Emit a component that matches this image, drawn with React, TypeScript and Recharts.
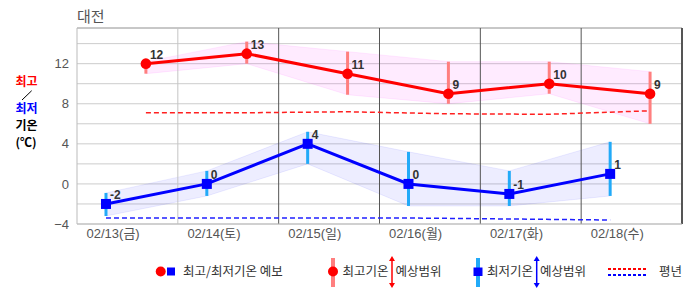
import React from 'react';
import {
  ComposedChart,
  Line,
  Area,
  XAxis,
  YAxis,
  CartesianGrid,
  ReferenceLine,
  ErrorBar,
  LabelList,
} from 'recharts';

const TITLE = '대전';
const DAYS = ['02/13(금)', '02/14(토)', '02/15(일)', '02/16(월)', '02/17(화)', '02/18(수)'];
const HIGH = [12, 13, 11, 9, 10, 9];
const LOW = [-2, 0, 4, 0, -1, 1];
const HIGH_MIN = [11, 12, 8.9, 8, 9, 6];
const HIGH_MAX = [12.2, 14.2, 13.2, 12.2, 12.2, 11.2];
const LOW_MIN = [-3.2, -1.2, 2, -2.2, -2.2, -1.2];
const LOW_MAX = [-0.9, 1.3, 5.2, 3.2, 1.3, 4.2];
const NORMAL_HIGH = [7.1, 7.1, 7.2, 7.0, 6.95, 7.3];
const NORMAL_LOW = [-3.4, -3.4, -3.4, -3.4, -3.5, -3.6];
const HIGH_HOUR = 16.4;
const LOW_HOUR = 6.9;
const LABEL_HOUR = 8.6;
const Y_TICKS = [-4, -2, 0, 2, 4, 6, 8, 10, 12, 14];
const Y_MIN = -4;
const Y_MAX = 15.56;

const highData = DAYS.map((d, i) => ({
  x: i + HIGH_HOUR / 24,
  v: HIGH[i],
  range: [HIGH_MIN[i], HIGH_MAX[i]],
  err: [HIGH[i] - HIGH_MIN[i], HIGH_MAX[i] - HIGH[i]],
  normal: NORMAL_HIGH[i],
}));
const lowData = DAYS.map((d, i) => ({
  x: i + LOW_HOUR / 24,
  v: LOW[i],
  range: [LOW_MIN[i], LOW_MAX[i]],
  err: [LOW[i] - LOW_MIN[i], LOW_MAX[i] - LOW[i]],
  normal: NORMAL_LOW[i],
}));
const dayLines = DAYS.map((d, i) => i + 1);
const xTicks = DAYS.map((d, i) => i + LABEL_HOUR / 24);

const FONT = '"Liberation Sans", Arial, "Noto Sans CJK KR", sans-serif';
const KFONT = '"Noto Sans CJK KR", "Liberation Sans", sans-serif';

const renderValueLabel = (props: any) => {
  const { x, y, value } = props;
  return (
    <text x={x + 4} y={y - 5} fontSize={12} fontWeight="bold" fill="#333" fontFamily={FONT}>
      {value}
    </text>
  );
};

const SquareDot = (props: any) => {
  const { cx, cy, index } = props;
  return <rect key={`sq-${index}`} x={cx - 5} y={cy - 5} width={10} height={10} fill="#0000ff" />;
};

const fmtY = (v: number) => (v % 4 === 0 ? (v < 0 ? '\u2212' + Math.abs(v) : String(v)) : '');

const Arrow = ({ x, color }: { x: number; color: string }) => (
  <g>
    <line x1={x} y1={259} x2={x} y2={285} stroke={color} strokeWidth={1.5} />
    <polygon points={`${x - 3},${261} ${x + 3},${261} ${x},${256}`} fill={color} />
    <polygon points={`${x - 3},${283} ${x + 3},${283} ${x},${288}`} fill={color} />
  </g>
);

export default function App() {
  return (
    <div
      style={{
        position: 'absolute',
        left: 0,
        top: 0,
        width: 686,
        height: 295,
        background: '#fff',
        fontFamily: FONT,
      }}
    >
      <ComposedChart width={686} height={295} margin={{ top: 28, right: 4, bottom: 41, left: 0 }}>
        <CartesianGrid vertical={false} stroke="#cccccc" />
        <XAxis
          type="number"
          dataKey="x"
          domain={[0, DAYS.length]}
          ticks={xTicks}
          interval={0}
          allowDataOverflow
          tickFormatter={(v: number) => DAYS[Math.floor(v)]}
          tickLine={false}
          tickSize={3}
          height={30}
          stroke="#bbbbbb"
          tick={{ fill: '#555', fontSize: 13, fontFamily: FONT }}
        />
        <YAxis
          type="number"
          domain={[Y_MIN, Y_MAX]}
          ticks={Y_TICKS}
          interval={0}
          allowDataOverflow
          tickFormatter={fmtY}
          tickLine={false}
          tickSize={6}
          width={77}
          stroke="#bbbbbb"
          tick={{ fill: '#555', fontSize: 13, fontFamily: FONT }}
        />
        <ReferenceLine y={Y_MAX} stroke="#aaaaaa" />
        {dayLines.map((d, i) => (
          <ReferenceLine
            key={`day-${d}`}
            x={d}
            stroke={i === 0 ? '#c4c4c4' : '#555555'}
            strokeWidth={i === dayLines.length - 1 ? 2 : 1}
          />
        ))}
        <Area
          data={highData}
          dataKey="range"
          type="linear"
          fill="#ff00ff"
          fillOpacity={0.08}
          stroke="#ff00ff"
          strokeOpacity={0.08}
          isAnimationActive={false}
        />
        <Area
          data={lowData}
          dataKey="range"
          type="linear"
          fill="#0000ff"
          fillOpacity={0.07}
          stroke="#0000ff"
          strokeOpacity={0.07}
          isAnimationActive={false}
        />
        <Line
          data={highData}
          dataKey="normal"
          type="linear"
          stroke="#ff2020"
          strokeWidth={1.5}
          strokeDasharray="5 3"
          dot={false}
          isAnimationActive={false}
        />
        <Line
          data={lowData}
          dataKey="normal"
          type="linear"
          stroke="#2020ff"
          strokeWidth={1.5}
          strokeDasharray="5 3"
          dot={false}
          isAnimationActive={false}
        />
        <Line
          data={highData}
          dataKey="v"
          type="linear"
          stroke="#ff0000"
          strokeWidth={3}
          dot={{ r: 5.3, fill: '#ff0000', stroke: 'none' }}
          isAnimationActive={false}
        >
          <ErrorBar dataKey="err" width={0} strokeWidth={3} stroke="#ff7f7f" direction="y" />
          <LabelList dataKey="v" content={renderValueLabel} />
        </Line>
        <Line
          data={lowData}
          dataKey="v"
          type="linear"
          stroke="#0000ff"
          strokeWidth={3}
          dot={<SquareDot />}
          isAnimationActive={false}
        >
          <ErrorBar dataKey="err" width={0} strokeWidth={3} stroke="#22aaf8" direction="y" />
          <LabelList dataKey="v" content={renderValueLabel} />
        </Line>
      </ComposedChart>
      <svg
        width={686}
        height={295}
        style={{ position: 'absolute', left: 0, top: 0, pointerEvents: 'none' }}
      >
        <text x={77} y={21.5} fontSize={15} fill="#555" fontFamily={KFONT}>
          {TITLE}
        </text>
        <g fontFamily={KFONT} fontWeight="bold" fontSize={12}>
          <text x={15.5} y={85.5} fill="#ff0000">최고</text>
          <line x1={31.7} y1={90.7} x2={22} y2={100} stroke="#000" strokeWidth={1} />
          <text x={15.5} y={112.5} fill="#0000ff">최저</text>
          <text x={15.5} y={129.5} fill="#000">기온</text>
          <text x={15.5} y={147} fill="#000">(℃)</text>
        </g>
        <g fontFamily={KFONT} fontSize={12.5} fill="#333">
          <circle cx={160.7} cy={271.5} r={5} fill="#ff0000" />
          <rect x={167} y={267.5} width={8} height={8} fill="#0000ff" />
          <text x={183} y={276}>최고/최저기온 예보</text>

          <rect x={331} y={258} width={4} height={29} fill="#ff7f7f" />
          <circle cx={333} cy={271.5} r={5} fill="#ff0000" />
          <text x={342.5} y={276}>최고기온</text>
          <Arrow x={392} color="#ff0000" />
          <text x={395.5} y={276}>예상범위</text>

          <rect x={476} y={258} width={4} height={29} fill="#22aaf8" />
          <rect x={473.5} y={267.5} width={9} height={8.5} fill="#0000ff" />
          <text x={487} y={276}>최저기온</text>
          <Arrow x={536.7} color="#0000ff" />
          <text x={540} y={276}>예상범위</text>

          <line x1={608} y1={269} x2={648} y2={269} stroke="#ff0000" strokeWidth={2} strokeDasharray="3 2" />
          <line x1={608} y1={275} x2={648} y2={275} stroke="#0000ff" strokeWidth={2} strokeDasharray="3 2" />
          <text x={659} y={276}>평년</text>
        </g>
      </svg>
    </div>
  );
}
